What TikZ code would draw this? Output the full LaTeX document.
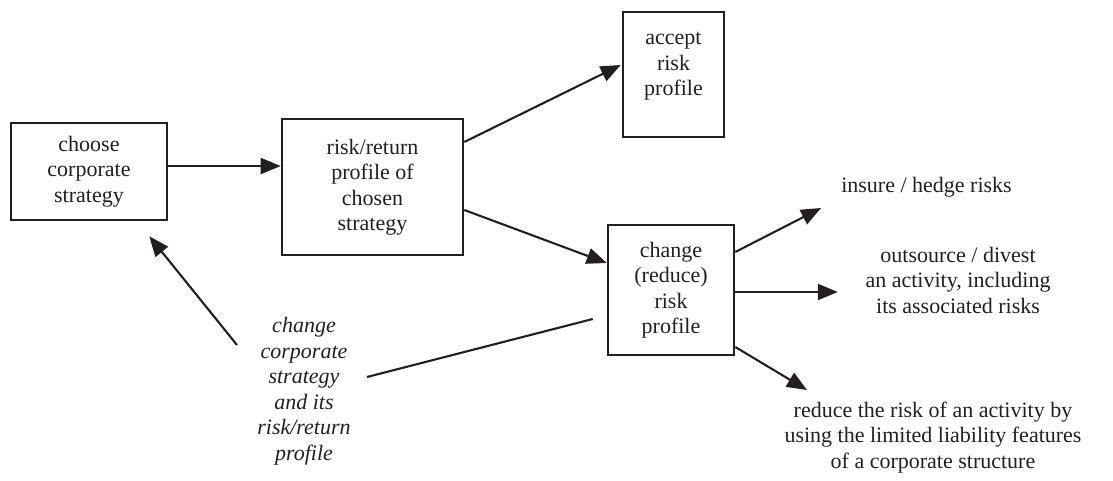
\documentclass[tikz,border=0pt]{standalone}
\usepackage{fontspec}
\setmainfont{Liberation Serif}
\usetikzlibrary{arrows.meta}
\definecolor{ink}{RGB}{35,31,32}

\begin{document}
\begin{tikzpicture}[x=1pt, y=-1pt, >={Triangle[length=20pt,width=16pt]},
        every node/.append style={font=\fontsize{22}{25.5}\selectfont, text=ink, align=center}]
      \tikzstyle{box} = [draw=ink, line width=2.6pt, inner sep=0pt]
      \tikzstyle{option} = [inner sep=0pt]
      \tikzstyle{arr} = [->, draw=ink, line width=2.1pt]
      \useasboundingbox (0,0) rectangle (1113,480);
      \node (choose) [box, minimum width=156pt, minimum height=97pt] at (89,171.5) {choose\\corporate\\strategy};
      \node (profile) [box, minimum width=181pt, minimum height=136pt] at (372.5,187) {risk/return\\profile of\\chosen\\strategy};
      \node (accept) [box, minimum width=101pt, minimum height=125pt, text depth=21pt] at (673.5,74.5) {accept\\risk\\profile};
      \node (change) [box, minimum width=126pt, minimum height=130pt] at (671,290) {change\\(reduce)\\risk\\profile};
      \node (insure) [option] at (926.5,187) {insure / hedge risks};
      \node (outsource) [option] at (958,280) {outsource / divest\\an activity, including\\its associated risks};
      \node (reduce) [option] at (933,437.5) {reduce the risk of an activity by\\using the limited liability features\\of a corporate structure};
      \node (rethink) [option, font=\fontsize{22}{25.5}\selectfont\itshape] at (304,391) {change\\corporate\\strategy\\and its\\risk/return\\profile};
      \draw[arr] ([yshift=5.5pt]choose.east) -- ([yshift=21pt]profile.west);
      \draw[arr] ([yshift=45pt]profile.east) -- ([xshift=-1pt,yshift=9.5pt]accept.west);
      \draw[arr] ([yshift=-23pt]profile.east) -- ([yshift=27pt]change.west);
      \draw[arr] ([yshift=38pt]change.east) -- ([xshift=-20pt,yshift=-21pt]insure.west);
      \draw[arr] ([yshift=-2pt]change.east) -- ([xshift=-27.5pt,yshift=-12pt]outsource.west);
      \draw[arr] ([yshift=-57pt]change.east) -- ([xshift=-126pt,yshift=47.5pt]reduce.center);
      \draw[arr] ([xshift=-67pt,yshift=46pt]rethink.center) -- ([xshift=-19pt,yshift=-15pt]choose.south east);
      \draw[draw=ink, line width=2.1pt] ([xshift=63pt,yshift=14pt]rethink.center) -- ([xshift=-14pt,yshift=-29pt]change.west);
    \end{tikzpicture}
\end{document}
